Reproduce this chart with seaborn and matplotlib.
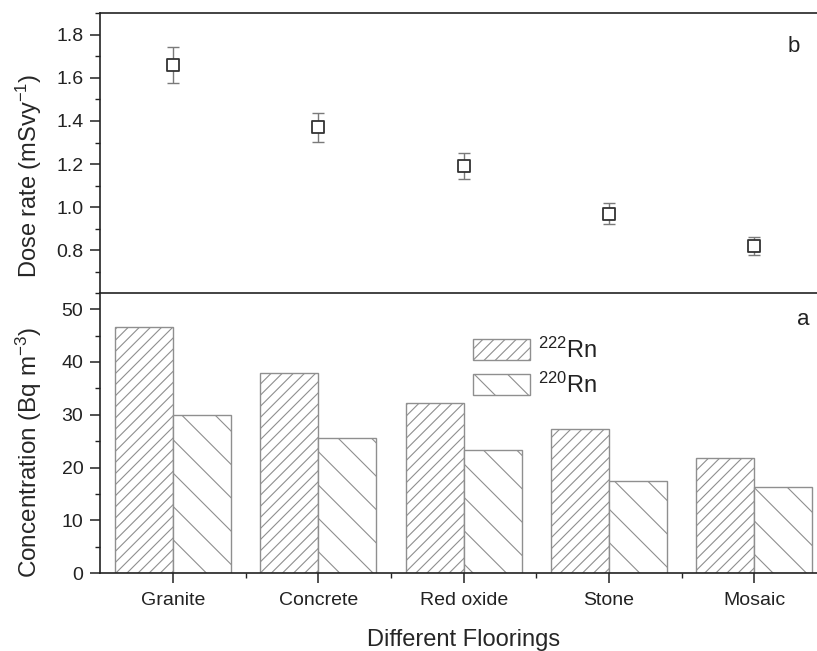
import numpy as np
import pandas as pd
import matplotlib
matplotlib.use("Agg")
import matplotlib.pyplot as plt
from matplotlib.ticker import MultipleLocator, FixedLocator, FormatStrFormatter
import seaborn as sns

floorings = ["Granite", "Concrete", "Red oxide", "Stone", "Mosaic"]
rn222 = [46.7, 37.9, 32.3, 27.3, 21.9]
rn220 = [29.9, 25.6, 23.3, 17.4, 16.4]
dose_rate = [1.66, 1.37, 1.19, 0.97, 0.82]
dose_err = [0.083, 0.067, 0.060, 0.050, 0.041]
dose_ticks = [0.8, 1.0, 1.2, 1.4, 1.6, 1.8]
series_labels = [r"$^{222}$Rn", r"$^{220}$Rn"]

sns.set_theme(style="white")
plt.rcParams["font.family"] = ["Liberation Sans", "DejaVu Sans"]
plt.rcParams["mathtext.fontset"] = "custom"
plt.rcParams["mathtext.rm"] = "Liberation Sans"
plt.rcParams["mathtext.it"] = "Liberation Sans:italic"
plt.rcParams["mathtext.bf"] = "Liberation Sans:bold"
plt.rcParams["hatch.color"] = "#8f8f8f"
plt.rcParams["hatch.linewidth"] = 0.8
plt.rcParams["axes.linewidth"] = 1.2
plt.rcParams["text.color"] = "#222222"

INK = "#222222"
EDGE = "#8f8f8f"

W, H = 817, 651
fig = plt.figure(figsize=(W / 100, H / 100), dpi=100)
left = 100.3 / W
width = 726.7 / W
ax_b = fig.add_axes([left, (H - 293.3) / H, width, 280 / H])
ax_a = fig.add_axes([left, (H - 573.3) / H, width, 280 / H], sharex=ax_b)

# --- panel a: radon / thoron concentrations ---
df = pd.DataFrame({
    "Flooring": floorings * 2,
    "Concentration": rn222 + rn220,
    "Isotope": [series_labels[0]] * len(floorings) + [series_labels[1]] * len(floorings),
})
sns.barplot(data=df, x="Flooring", y="Concentration", hue="Isotope",
            order=floorings, hue_order=series_labels,
            palette=["white", "white"], edgecolor=EDGE, linewidth=1.0,
            width=0.8, gap=0, ax=ax_a, legend=True)
hatches = ["///", "\\"]
for cont, hatch in zip(ax_a.containers, hatches):
    for bar in cont:
        bar.set_hatch(hatch)
        bar.set_edgecolor(EDGE)
        bar.set_facecolor("white")

leg = ax_a.legend(loc="upper left", bbox_to_anchor=(0.513, 0.842), frameon=False,
                  fontsize=17, handlelength=2.4, handleheight=1.0,
                  handletextpad=0.35, labelspacing=0.42, borderaxespad=0, borderpad=0)
for h, hatch in zip(leg.legend_handles, hatches):
    h.set_edgecolor(EDGE)
    h.set_facecolor("white")
    h.set_hatch(hatch)

ax_a.set_ylim(0, 53)
ax_a.yaxis.set_major_locator(MultipleLocator(10))
ax_a.yaxis.set_minor_locator(MultipleLocator(5))
ax_a.set_ylabel(r"Concentration (Bq m$^{-3}$)", fontsize=17.5)
ax_a.yaxis.set_label_coords(-0.077, 0.433)
ax_a.set_xlabel("Different Floorings", fontsize=17, labelpad=14)
ax_a.text(0.968, 0.905, "a", transform=ax_a.transAxes, fontsize=16,
          ha="center", va="center")

# --- panel b: annual dose rate ---
xpos = np.arange(len(floorings))
ax_b.errorbar(xpos, dose_rate, yerr=dose_err, fmt="none", ecolor="#7a7a7a",
              elinewidth=1.0, capsize=4.3, capthick=1.0, zorder=2)
sns.scatterplot(x=xpos, y=dose_rate, marker="s", s=64, facecolor="white",
                edgecolor="#333333", linewidth=1.3, ax=ax_b, zorder=3, legend=False)
ax_b.set_ylim(0.6, 1.9)
ax_b.yaxis.set_major_locator(FixedLocator(dose_ticks))
ax_b.yaxis.set_minor_locator(MultipleLocator(0.1))
ax_b.yaxis.set_major_formatter(FormatStrFormatter("%.1f"))
ax_b.set_ylabel(r"Dose rate (mSvy$^{-1}$)", fontsize=17)
ax_b.yaxis.set_label_coords(-0.077, 0.42)
ax_b.set_xlabel("")
ax_b.text(0.9546, 0.88, "b", transform=ax_b.transAxes, fontsize=16,
          ha="center", va="center")

# shared x axis: categories with minor ticks halfway between
ax_a.set_xlim(-0.5, len(floorings) - 0.5)
ax_a.set_xticks(xpos, floorings)
ax_a.xaxis.set_minor_locator(FixedLocator(xpos[:-1] + 0.5))

for ax in (ax_a, ax_b):
    for s in ax.spines.values():
        s.set_color(INK)
        s.set_linewidth(1.2)
    ax.tick_params(axis="y", which="major", direction="out", length=7.2, width=1.1,
                   labelsize=14, colors=INK, left=True, pad=5)
    ax.tick_params(axis="y", which="minor", direction="out", length=3.8, width=1.0,
                   left=True, colors=INK)

ax_a.tick_params(axis="x", which="major", direction="out", length=7.2, width=1.1,
                 labelsize=14, colors=INK, bottom=True, top=False, pad=6.5)
ax_a.tick_params(axis="x", which="minor", direction="out", length=3.8, width=1.0,
                 bottom=True, top=False, colors=INK)
# ticks hanging from the upper panel mark the lower panel's top edge
ax_b.tick_params(axis="x", which="major", direction="out", length=7.2, width=1.1,
                 bottom=True, top=False, labelbottom=False, colors=INK)
ax_b.tick_params(axis="x", which="minor", direction="out", length=4.5, width=1.0,
                 bottom=True, top=False, colors=INK)
ax_b.spines["bottom"].set_visible(False)

fig.savefig("out.png", dpi=100)
